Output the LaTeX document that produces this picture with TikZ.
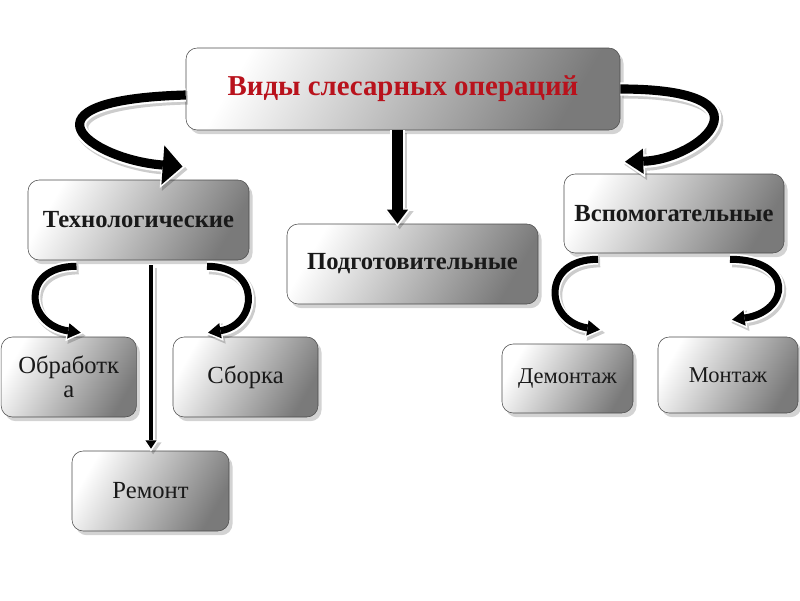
\documentclass[tikz,border=0pt]{standalone}
\usepackage{fontspec}
\setmainfont{Liberation Serif}
\usetikzlibrary{arrows.meta, shadows}

\definecolor{titlered}{RGB}{185,18,28}

\tikzset{
  box/.style={draw=black!70, rounded corners=8pt, top color=white, bottom color=black!52,
    shading angle=60, drop shadow={opacity=0.35, shadow xshift=2.5pt, shadow yshift=-3pt},
    inner sep=0pt, align=center, text=black!90, font=\fontsize{17.5}{17}\selectfont},
  boldbox/.style={box, font=\bfseries\fontsize{17.5}{17.5}\selectfont},
  smallbox/.style={box, font=\fontsize{16}{16}\selectfont},
  flowarrow/.style n args={6}{line width=#1, line cap=butt,
    -{Triangle[length=#2, width=#3, line width=0pt]},
    preaction={draw=black, opacity=0.2, line width=#4, shorten >=-2pt,
      -{Triangle[length=#5, width=#6, line width=0pt]},
      transform canvas={shift={(1.5pt,-2pt)}}},
    preaction={draw=white, line width=#4, shorten >=-2pt,
      -{Triangle[length=#5, width=#6, line width=0pt]}}},
  bigleft/.style={flowarrow={6.5pt}{14pt}{28pt}{9.5pt}{17pt}{33pt}},
  bigright/.style={flowarrow={6.5pt}{13pt}{18pt}{9.5pt}{16pt}{23pt}},
  downarrow/.style={flowarrow={7.5pt}{10pt}{15pt}{10.5pt}{13pt}{20pt}},
  thinarrow/.style={flowarrow={3pt}{6pt}{8pt}{5.5pt}{8.5pt}{12pt}},
  smallarrow/.style={flowarrow={5pt}{9pt}{11pt}{7.5pt}{12pt}{15pt}}
}

\begin{document}
\begin{tikzpicture}
  \useasboundingbox (0,0) rectangle (20,-15);

  % boxes
  \node[box, minimum width=10.85cm, minimum height=2.05cm, text=titlered,
    font=\bfseries\fontsize{20.5}{20.5}\selectfont] (title) at (10.075,-2.225) {Виды слесарных операций};
  \node[boldbox, minimum width=5.525cm, minimum height=2cm] (tech) at (3.4625,-5.5) {Технологические};
  \node[boldbox, minimum width=6.275cm, minimum height=2cm] (prep) at (10.3125,-6.6) {Подготовительные};
  \node[boldbox, minimum width=5.5cm, minimum height=1.975cm] (aux) at (16.85,-5.3375) {Вспомогательные};

  \node[box, minimum width=3.38cm, minimum height=2cm] (proc) at (1.72,-9.425) {Обработк\\а};
  \node[box, minimum width=3.625cm, minimum height=2cm] (asm) at (6.1375,-9.425) {Сборка};
  \node[box, minimum width=3.925cm, minimum height=2cm] (repair) at (3.7625,-12.275) {Ремонт};
  \node[smallbox, minimum width=3.275cm, minimum height=1.725cm] (disasm) at (14.1875,-9.4625) {Демонтаж};
  \node[smallbox, minimum width=3.5cm, minimum height=1.9cm] (mount) at (18.2,-9.375) {Монтаж};

  % arrows from the title
  \draw[bigleft] ([yshift=-0.15cm]title.west) .. controls +(-4.4,-0.125) and +(-2.325,0.175) .. ([shift={(1.1,0.33)}]tech.north);
  \draw[bigright] (title.east) .. controls +(4,0) and +(1.875,0.05) .. ([shift={(-1.225,0.3)}]aux.north);
  \draw[downarrow] ([xshift=-0.1375cm]title.south) -- ([xshift=-0.375cm]prep.north);

  % arrows below
  \draw[thinarrow] ([shift={(0.3125,-0.12)}]tech.south) -- ([shift={(0.0125,0.05)}]repair.north);
  \draw[smallarrow] ([shift={(-1.55,-0.15)}]tech.south) .. controls +(-1.425,0) and +(-1.375,0.2) .. ([shift={(0.3,0.1)}]proc.north);
  \draw[smallarrow] ([shift={(1.7125,-0.15)}]tech.south) .. controls +(1.375,0) and +(1.25,0.2) .. ([shift={(-0.9375,0.1)}]asm.north);
  \draw[smallarrow] ([shift={(-1.9,-0.15)}]aux.south) .. controls +(-1.45,0) and +(-1.375,0.2) .. ([shift={(0.8125,0.35)}]disasm.north);
  \draw[smallarrow] ([shift={(1.4,-0.15)}]aux.south) .. controls +(1.625,0) and +(1.45,0.2) .. ([shift={(0.1,0.425)}]mount.north);
\end{tikzpicture}
\end{document}
